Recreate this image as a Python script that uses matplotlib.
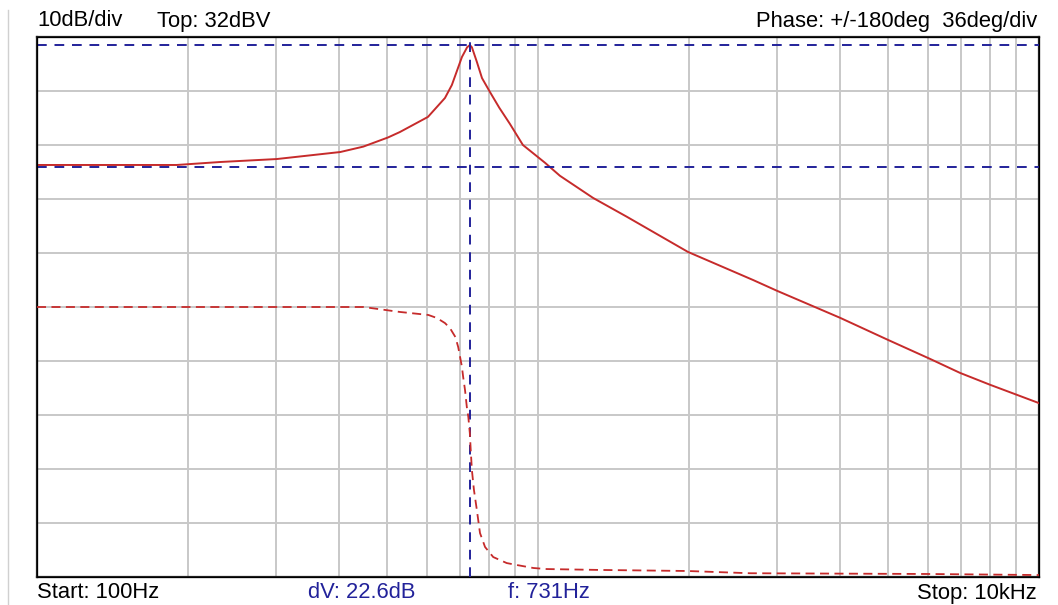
import numpy as np
import matplotlib
matplotlib.use("Agg")
import matplotlib.pyplot as plt

# magnitude trace (Hz, dBV)
mag_freq = [100, 190, 232, 301, 403, 448, 502, 530, 603, 652, 673, 705, 722, 731, 738,
            755, 773, 802, 837, 879, 933, 1033, 1106, 1288, 1505, 1992, 2687, 3000,
            4008, 4998, 6058, 6955, 7985, 10000]
mag_db = [8.3, 8.3, 8.85, 9.4, 10.7, 11.7, 13.4, 14.4, 17.2, 20.7, 23.1, 28.3, 30.1, 30.5, 30.1,
          27.4, 24.4, 21.8, 18.9, 15.9, 12.0, 8.7, 6.3, 2.2, -1.3, -7.8, -13.0, -15.0,
          -20.0, -24.1, -27.6, -30.2, -32.4, -35.8]

# phase trace (Hz, deg)
ph_freq = [100, 448, 530, 604, 628, 652, 667, 684, 693, 699, 705, 709, 715, 721, 726,
           731, 734, 738, 745, 755, 766, 784, 814, 866, 907, 979, 1041, 1330, 1990,
           2650, 6058, 10000]
ph_deg = [0, 0, -3.3, -5.3, -7.3, -10.7, -14, -20, -26.7, -33.3, -40, -46.7, -55.3, -66.7, -73.3,
          -84, -95.3, -108.7, -122, -135.3, -150.7, -160, -166.7, -170.7, -172, -174, -174.7,
          -175.3, -176, -177.5, -178, -178.7]

# cursors
cursor_db = [30.5, 7.9]
cursor_f = 731

top_db = 32
db_per_div = 10
n_div = 10

W, H = 1058, 605
fig = plt.figure(figsize=(W / 100, H / 100), dpi=100)
fig.patch.set_facecolor("white")

left, right, top, bottom = 37, 1039, 37, 577
ax = fig.add_axes([left / W, 1 - bottom / H, (right - left) / W, (bottom - top) / H])
ax.set_xscale("log")
ax.set_xlim(100, 10000)
ax.set_ylim(top_db - db_per_div * n_div, top_db)

grid_c = "#c8c8c8"
ax.set_yticks(np.arange(top_db - db_per_div * n_div, top_db + 1, db_per_div))
ax.grid(which="major", color=grid_c, linewidth=1.4)
ax.grid(which="minor", axis="x", color=grid_c, linewidth=1.4)
ax.tick_params(which="both", length=0, labelleft=False, labelbottom=False)
for s in ax.spines.values():
    s.set_linewidth(1.6)
    s.set_color("#202020")

red = "#c62b2b"
navy = "#22229a"

ax.plot(mag_freq, mag_db, color=red, linewidth=1.4, zorder=3)

ax2 = ax.twinx()
ax2.set_ylim(-180, 180)
ax2.tick_params(which="both", length=0, labelright=False)
ax2.plot(ph_freq, ph_deg, color=red, linewidth=1.3, linestyle=(0, (5, 3)), zorder=3)

for v in cursor_db:
    ax.axhline(v, color=navy, linewidth=1.4, linestyle=(0, (5, 4)), zorder=4)
ax.axvline(cursor_f, color=navy, linewidth=1.4, linestyle=(0, (5, 4)), zorder=4)

# faint window edge on the left
fig.add_artist(plt.Line2D([8 / W, 8 / W], [0, 1 - 10 / H], color="#d0d0d0", linewidth=1.0))

fp = dict(family=["Liberation Sans", "DejaVu Sans"], fontsize=15.8)
ty = 1 - 21 / H
by = 1 - 593 / H
fig.text(37 / W, ty, "10dB/div", ha="left", va="center", color="black", **fp)
fig.text(157 / W, ty, "Top: 32dBV", ha="left", va="center", color="black", **fp)
fig.text(1037 / W, ty, "Phase: +/-180deg  36deg/div", ha="right", va="center", color="black", **fp)
fig.text(37 / W, by, "Start: 100Hz", ha="left", va="center", color="black", **fp)
fig.text(308 / W, by, "dV: %.1fdB" % (cursor_db[0] - cursor_db[1]), ha="left", va="center", color=navy, **fp)
fig.text(508 / W, by, "f: %dHz" % cursor_f, ha="left", va="center", color=navy, **fp)
fig.text(1037 / W, by, "Stop: 10kHz", ha="right", va="center", color="black", **fp)

fig.savefig("out.png", dpi=100)
